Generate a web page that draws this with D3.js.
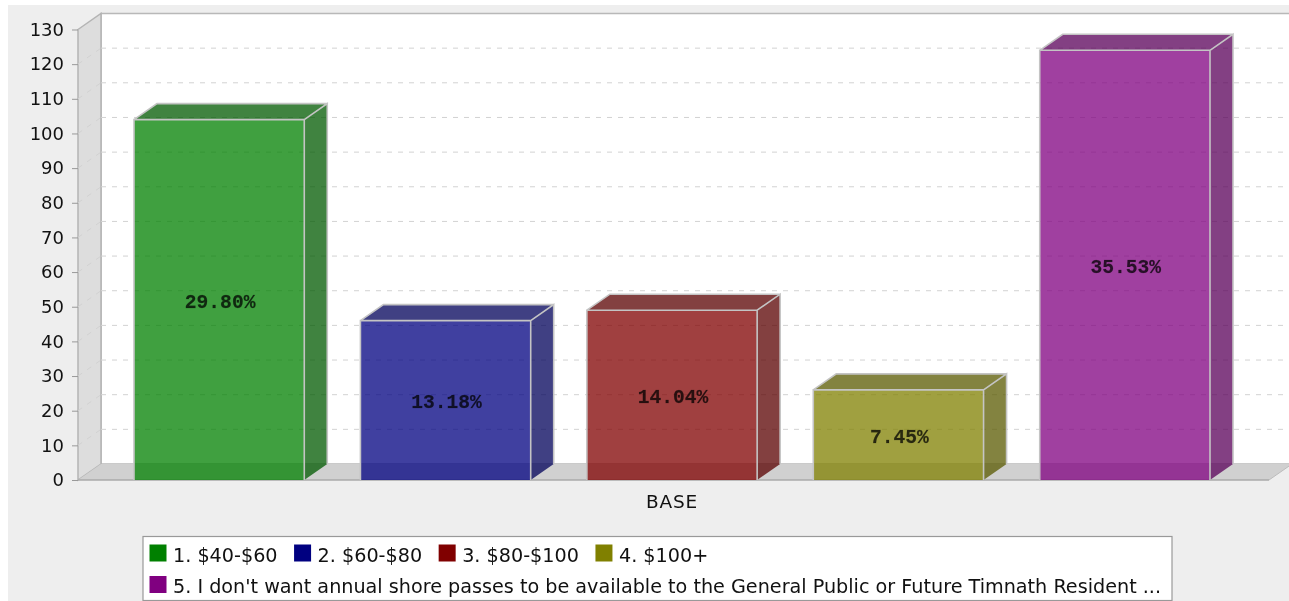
<!DOCTYPE html>
<html lang="en">
<head>
    <meta charset="UTF-8">
    <title>Bar 3D</title>
    <script src="https://d3js.org/d3.v7.min.js"></script>
    <style>
        html, body {margin: 0; padding: 0; background: #fff; overflow: hidden;}
        svg {display: block; filter: blur(0.55px);}
        text {font-family: "DejaVu Sans", sans-serif; fill: #111;}
        .tick text {font-size: 18px;}
        .legend text {font-size: 19.2px;}
        .pct {font-family: "Liberation Mono", monospace; font-weight: bold; font-size: 19.6px; text-anchor: middle; fill: #000; fill-opacity: .75; stroke: #000; stroke-opacity: .3; stroke-width: .4px;}
    </style>
</head>
<body>
<script>
    const width  = 1289;
    const height = 601;

    const series = ["1. $40-$60", "2. $60-$80", "3. $80-$100", "4. $100+",
        "5. I don't want annual shore passes to be available to the General Public or Future Timnath Resident ..."];
    const counts = [104, 46, 49, 26, 124];
    const labels = ["29.80%", "13.18%", "14.04%", "7.45%", "35.53%"];
    const colors = ["#008000", "#000080", "#800000", "#808000", "#800080"];
    const yTicks = d3.range(0, 131, 10);
    const category = "BASE";

    // depth of the fake 3d box
    const dx = 23, dy = -16;
    const plotLeft = 78, plotRight = 1269, plotBottom = 480, plotTop = 29.5;

    const y = d3.scaleLinear().domain([0, 130]).range([plotBottom, plotTop]);
    const x = d3.scaleBand().domain(series).range([134, 1210]).paddingInner(0.248);

    const svg = d3.select("body").append("svg").attr("width", width).attr("height", height);
    const pts = a => a.map(p => p.join(",")).join(" ");

    svg.append("rect").attr("x", 8).attr("y", 5).attr("width", width - 8).attr("height", height - 5).attr("fill", "#eeeeee");

    // back wall, side wall, floor
    svg.append("rect").attr("x", plotLeft + dx).attr("y", plotTop + dy)
        .attr("width", width - plotLeft - dx + 5).attr("height", plotBottom - plotTop)
        .attr("fill", "#fff").attr("stroke", "#b8b8b8").attr("stroke-width", 1.5);
    svg.append("polygon")
        .attr("points", pts([[plotLeft, plotTop], [plotLeft + dx, plotTop + dy], [plotLeft + dx, plotBottom + dy], [plotLeft, plotBottom]]))
        .attr("fill", "#dddddd").attr("stroke", "#b4b4b4").attr("stroke-width", 1.5);
    svg.append("polygon")
        .attr("points", pts([[plotLeft, plotBottom], [plotLeft + dx, plotBottom + dy], [plotRight + dx, plotBottom + dy], [plotRight, plotBottom]]))
        .attr("fill", "#d0d0d0");
    svg.append("line").attr("x1", plotLeft).attr("x2", plotRight).attr("y1", plotBottom).attr("y2", plotBottom)
        .attr("stroke", "#aaa").attr("stroke-width", 1.5);
    svg.append("line").attr("x1", plotRight).attr("x2", plotRight + dx).attr("y1", plotBottom).attr("y2", plotBottom + dy)
        .attr("stroke", "#bbb");

    // gridlines, running over both walls
    const grid = svg.append("g").attr("fill", "none").attr("stroke", "#d2d2d2").attr("stroke-dasharray", "5,6");
    yTicks.filter(d => d > 0 && d < 130).forEach(d => {
        grid.append("line").attr("x1", plotLeft).attr("y1", y(d)).attr("x2", plotLeft + dx).attr("y2", y(d) + dy);
        grid.append("line").attr("x1", plotLeft + dx).attr("y1", y(d) + dy).attr("x2", width).attr("y2", y(d) + dy);
    });

    const bars = svg.append("g").selectAll("g").data(series).join("g");
    const outline = "#c4c4c4";

    bars.each(function(s, i) {
        const g = d3.select(this);
        const x0 = x(s), x1 = x0 + x.bandwidth();
        const yv = y(counts[i]);
        const dark = d3.color(colors[i]).darker(1).formatHex();

        // side
        g.append("polygon")
            .attr("points", pts([[x1, plotBottom], [x1 + dx, plotBottom + dy], [x1 + dx, yv + dy], [x1, yv]]))
            .attr("fill", dark).attr("fill-opacity", .75);
        // top
        g.append("polygon")
            .attr("points", pts([[x0, yv], [x0 + dx, yv + dy], [x1 + dx, yv + dy], [x1, yv]]))
            .attr("fill", dark).attr("fill-opacity", .75);
        // front
        g.append("rect").attr("x", x0).attr("y", yv).attr("width", x1 - x0).attr("height", plotBottom - yv)
            .attr("fill", colors[i]).attr("fill-opacity", .75);

        // edges
        g.append("path")
            .attr("d", `M${x0},${plotBottom}V${yv}H${x1}V${plotBottom}M${x1},${yv}l${dx},${dy}V${plotBottom + dy}M${x0},${yv}l${dx},${dy}H${x1 + dx}`)
            .attr("fill", "none").attr("stroke", outline).attr("stroke-width", 1.6);

        g.append("text").attr("class", "pct")
            .attr("x", (x0 + x1) / 2 + 1).attr("y", (yv + plotBottom) / 2 + 8)
            .text(labels[i]);
    });

    const yAxis = d3.axisLeft(y).tickValues(yTicks).tickSize(6).tickPadding(8);
    const axis = svg.append("g").attr("transform", "translate(" + [plotLeft, 0] + ")").call(yAxis);
    axis.select(".domain").remove();
    axis.selectAll(".tick line").attr("stroke", "#999");

    svg.append("text").attr("x", 672).attr("y", 507.7).attr("text-anchor", "middle")
        .attr("font-size", 18.5).attr("letter-spacing", 0.8).text(category);

    // legend, flows into two rows
    const legend = svg.append("g").attr("class", "legend");
    legend.append("rect").attr("x", 143).attr("y", 536.5).attr("width", 1029).attr("height", 64)
        .attr("fill", "#fff").attr("stroke", "#999").attr("stroke-width", 1.2);

    let lx = 149.5, ly = 544.5;
    series.forEach((s, i) => {
        if (i === 4) { lx = 149.5; ly = 576; }
        legend.append("rect").attr("x", lx).attr("y", ly).attr("width", 17).attr("height", 17).attr("fill", colors[i]);
        const t = legend.append("text").attr("x", lx + 23.5).attr("y", ly + 17).text(s);
        lx += 23.5 + t.node().getComputedTextLength() + 16.5;
    });
</script>
</body>
</html>
